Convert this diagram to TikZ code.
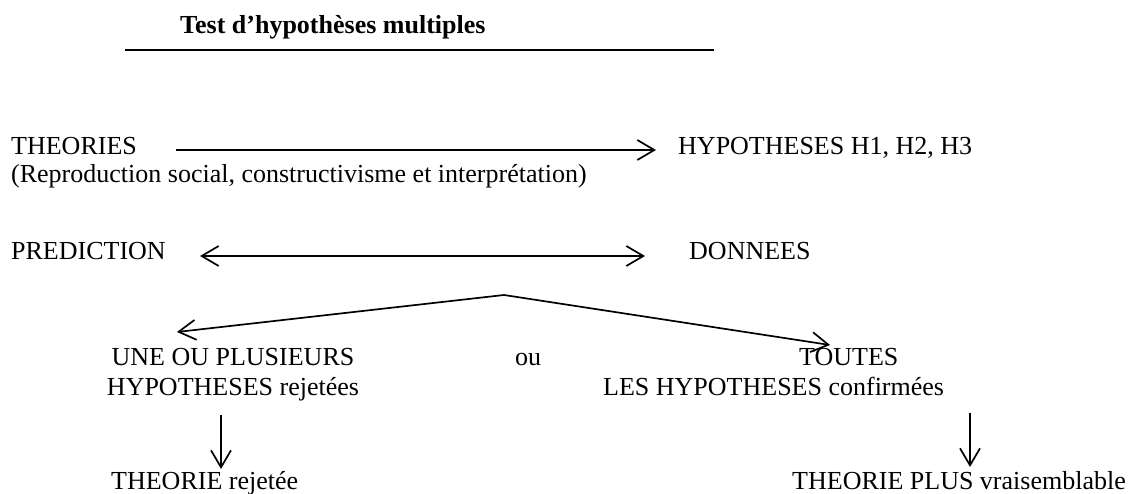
\documentclass[tikz,border=0pt]{standalone}
\usepackage{fontspec}
\setmainfont{Liberation Serif}
\usetikzlibrary{arrows.meta}
\begin{document}
\begin{tikzpicture}[x=1pt,y=-1pt,
  txt/.style={inner sep=0pt,anchor=base west,font=\fontsize{26}{30}\selectfont},
  ctxt/.style={inner sep=0pt,anchor=base,font=\fontsize{26}{30}\selectfont},
  conn/.style={line width=1.7pt,-{Straight Barb[length=17pt,width=20pt]}},
  dconn/.style={line width=1.7pt,{Straight Barb[length=17pt,width=20pt]}-{Straight Barb[length=17pt,width=20pt]}},
  rule/.style={line width=1.6pt}]
\useasboundingbox (0,0) rectangle (1138,494);
% title
\node[txt,font=\fontsize{26}{30}\selectfont\bfseries] (title) at (180,34) {Test d’hypothèses multiples};
\coordinate (r1) at (125,50);
\coordinate (r2) at (714,50);
\draw[rule] (r1) -- (r2);
% row 1
\node[txt] (theo) at (11,155) {THEORIES};
\node[txt] (hyp) at (678,155) {HYPOTHESES H1, H2, H3};
\node[txt] (repro) at (11,183) {(Reproduction social, constructivisme et interprétation)};
\coordinate (a1s) at (176,150);
\coordinate (a1e) at (656,150);
\draw[conn] (a1s) -- (a1e);
% row 2
\node[txt] (pred) at (11,260) {PREDICTION};
\node[txt] (donn) at (689,260) {DONNEES};
\coordinate (a2s) at (200,256);
\coordinate (a2e) at (645,256);
\draw[dconn] (a2s) -- (a2e);
% fork
\coordinate (apex) at (504,295);
\coordinate (ltip) at (177,332);
\coordinate (rtip) at (830,345);
\draw[conn] (apex) -- (ltip);
\draw[conn] (apex) -- (rtip);
% outcomes
\node[ctxt] (une) at (233,365) {UNE OU PLUSIEURS};
\node[ctxt] (hrej) at (233,395) {HYPOTHESES rejetées};
\node[txt] (ou) at (515,365) {ou};
\node[txt] (toutes) at (799,365) {TOUTES};
\node[txt] (hconf) at (603,395) {LES HYPOTHESES confirmées};
% final
\coordinate (d1s) at (221,415);
\coordinate (d1e) at (221,469);
\draw[conn] (d1s) -- (d1e);
\node[txt] (trej) at (111,489) {THEORIE rejetée};
\coordinate (d2s) at (970,413);
\coordinate (d2e) at (970,467);
\draw[conn] (d2s) -- (d2e);
\node[txt] (tplus) at (792,489) {THEORIE PLUS vraisemblable};
\end{tikzpicture}
\end{document}
